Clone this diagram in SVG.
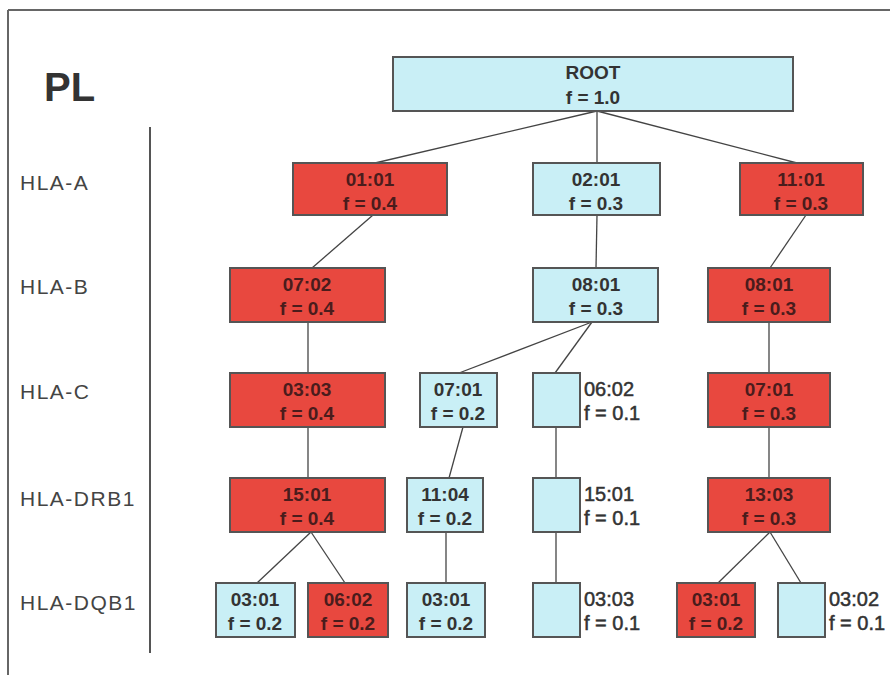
<svg xmlns="http://www.w3.org/2000/svg" width="890" height="675" viewBox="0 0 890 675">
<style>
.bg{fill:#ffffff}
.frame{stroke:#666;stroke-width:2;fill:none}
.red rect{fill:#e8483f;stroke:#555;stroke-width:2}
.blue rect{fill:#c9eff6;stroke:#555;stroke-width:2}
.t{font-family:"Liberation Sans",Arial,sans-serif;font-weight:bold;font-size:19px;text-anchor:middle}
.red .t{fill:#4a1c1c}
.blue .t{fill:#333}
.side{font-family:"Liberation Sans",Arial,sans-serif;font-size:20px;fill:#333;stroke:#333;stroke-width:0.5}
.lab{font-family:"Liberation Sans",Arial,sans-serif;font-size:21px;letter-spacing:1.5px;fill:#444}
.edges line{stroke:#444;stroke-width:1.3}
</style>
<rect class="bg" x="0" y="0" width="890" height="675"/>
<g id="frame">
<line class="frame" x1="8" y1="10" x2="890" y2="10"/>
<line class="frame" x1="8" y1="10" x2="8" y2="675"/>
<line x1="150" y1="127" x2="150" y2="653" stroke="#555" stroke-width="2"/>
</g>
<g id="labels">
<text x="44" y="101" font-family="Liberation Sans,Arial,sans-serif" font-weight="bold" font-size="40" fill="#333">PL</text>
<text class="lab" x="20" y="190">HLA-A</text>
<text class="lab" x="20" y="294">HLA-B</text>
<text class="lab" x="20" y="399">HLA-C</text>
<text class="lab" x="20" y="506">HLA-DRB1</text>
<text class="lab" x="20" y="610">HLA-DQB1</text>
</g>
<g class="edges" id="connectors">
<line x1="597" y1="111" x2="375" y2="163"/>
<line x1="597" y1="111" x2="597" y2="163"/>
<line x1="597" y1="111" x2="797" y2="163"/>
<line x1="373" y1="215" x2="312" y2="268"/>
<line x1="597" y1="215" x2="596" y2="268"/>
<line x1="806" y1="215" x2="770" y2="268"/>
<line x1="592" y1="322" x2="459" y2="373"/>
<line x1="592" y1="322" x2="555" y2="373"/>
<line x1="308" y1="322" x2="308" y2="373"/>
<line x1="769" y1="322" x2="769" y2="373"/>
<line x1="308" y1="427" x2="308" y2="478"/>
<line x1="463" y1="427" x2="449" y2="478"/>
<line x1="556" y1="427" x2="556" y2="478"/>
<line x1="769" y1="427" x2="769" y2="478"/>
<line x1="311" y1="532" x2="257" y2="583"/>
<line x1="311" y1="532" x2="345" y2="583"/>
<line x1="446" y1="532" x2="446" y2="583"/>
<line x1="556" y1="532" x2="556" y2="583"/>
<line x1="770" y1="532" x2="718" y2="583"/>
<line x1="770" y1="532" x2="801" y2="583"/>
</g>
<g id="root" class="blue"><rect x="393" y="57" width="400" height="54"/><text class="t" x="593" y="79">ROOT</text><text class="t" x="593" y="104">f = 1.0</text></g>
<g id="a1" class="red"><rect x="293" y="163" width="154" height="52"/><text class="t" x="370" y="186">01:01</text><text class="t" x="370" y="210">f = 0.4</text></g>
<g id="a2" class="blue"><rect x="533" y="163" width="127" height="52"/><text class="t" x="596" y="186">02:01</text><text class="t" x="596" y="210">f = 0.3</text></g>
<g id="a3" class="red"><rect x="740" y="163" width="123" height="52"/><text class="t" x="801" y="186">11:01</text><text class="t" x="801" y="210">f = 0.3</text></g>
<g id="b1" class="red"><rect x="230" y="268" width="155" height="54"/><text class="t" x="307" y="291">07:02</text><text class="t" x="307" y="315">f = 0.4</text></g>
<g id="b2" class="blue"><rect x="533" y="268" width="125" height="54"/><text class="t" x="596" y="291">08:01</text><text class="t" x="596" y="315">f = 0.3</text></g>
<g id="b3" class="red"><rect x="708" y="268" width="122" height="54"/><text class="t" x="769" y="291">08:01</text><text class="t" x="769" y="315">f = 0.3</text></g>
<g id="c1" class="red"><rect x="230" y="373" width="155" height="54"/><text class="t" x="307" y="396">03:03</text><text class="t" x="307" y="420">f = 0.4</text></g>
<g id="c2" class="blue"><rect x="420" y="373" width="77" height="54"/><text class="t" x="458" y="396">07:01</text><text class="t" x="458" y="420">f = 0.2</text></g>
<g id="c3" class="blue"><rect x="533" y="373" width="47" height="54"/><text class="side" x="584" y="396">06:02</text><text class="side" x="584" y="420">f = 0.1</text></g>
<g id="c4" class="red"><rect x="708" y="373" width="122" height="54"/><text class="t" x="769" y="396">07:01</text><text class="t" x="769" y="420">f = 0.3</text></g>
<g id="d1" class="red"><rect x="230" y="478" width="155" height="54"/><text class="t" x="307" y="501">15:01</text><text class="t" x="307" y="525">f = 0.4</text></g>
<g id="d2" class="blue"><rect x="407" y="478" width="76" height="54"/><text class="t" x="445" y="501">11:04</text><text class="t" x="445" y="525">f = 0.2</text></g>
<g id="d3" class="blue"><rect x="533" y="478" width="47" height="54"/><text class="side" x="584" y="501">15:01</text><text class="side" x="584" y="525">f = 0.1</text></g>
<g id="d4" class="red"><rect x="708" y="478" width="122" height="54"/><text class="t" x="769" y="501">13:03</text><text class="t" x="769" y="525">f = 0.3</text></g>
<g id="e1" class="blue"><rect x="216" y="583" width="79" height="54"/><text class="t" x="255" y="606">03:01</text><text class="t" x="255" y="630">f = 0.2</text></g>
<g id="e2" class="red"><rect x="308" y="583" width="80" height="54"/><text class="t" x="348" y="606">06:02</text><text class="t" x="348" y="630">f = 0.2</text></g>
<g id="e3" class="blue"><rect x="407" y="583" width="78" height="54"/><text class="t" x="446" y="606">03:01</text><text class="t" x="446" y="630">f = 0.2</text></g>
<g id="e4" class="blue"><rect x="533" y="583" width="47" height="54"/><text class="side" x="584" y="606">03:03</text><text class="side" x="584" y="630">f = 0.1</text></g>
<g id="e5" class="red"><rect x="677" y="583" width="78" height="54"/><text class="t" x="716" y="606">03:01</text><text class="t" x="716" y="630">f = 0.2</text></g>
<g id="e6" class="blue"><rect x="778" y="583" width="47" height="54"/><text class="side" x="829" y="606">03:02</text><text class="side" x="829" y="630">f = 0.1</text></g>
</svg>
